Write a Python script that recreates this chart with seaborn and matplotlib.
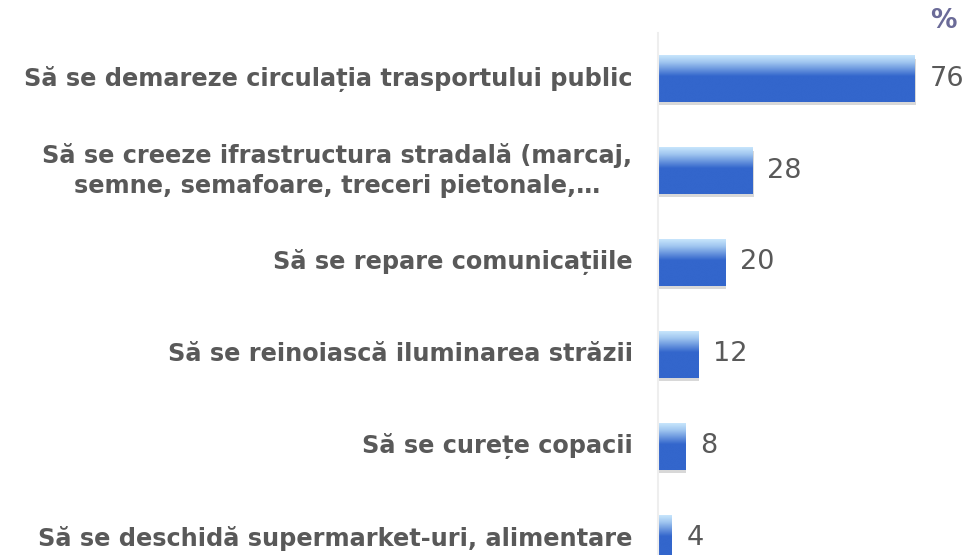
import numpy as np
import pandas as pd
import matplotlib
matplotlib.use("Agg")
import matplotlib.pyplot as plt
import matplotlib.patheffects as pe
from matplotlib.colors import LinearSegmentedColormap
import seaborn as sns

categories = [
    "Să se demareze circulația trasportului public",
    "Să se creeze ifrastructura stradală (marcaj,\nsemne, semafoare, treceri pietonale,…",
    "Să se repare comunicațiile",
    "Să se reinoiască iluminarea străzii",
    "Să se curețe copacii",
    "Să se deschidă supermarket-uri, alimentare",
]
values = [76, 28, 20, 12, 8, 4]
unit_label = "%"

df = pd.DataFrame({"cat": categories, "val": values})

sns.set_theme(style="white")
plt.rcParams["font.family"] = ["DejaVu Sans"]

W, H = 966, 555
fig = plt.figure(figsize=(W / 100, H / 100), dpi=100)
left_px, top_px = 657.5, 33
ax = fig.add_axes([left_px / W, 0, 1 - left_px / W, 1 - top_px / H])

sns.barplot(data=df, x="val", y="cat", orient="h", color="#3366cc",
            width=0.51, ax=ax, saturation=1)

XMAX = (W - left_px) / 3.38
ax.set_xlim(0, XMAX)
ax.set_ylim(5.18, -0.495)

cmap = LinearSegmentedColormap.from_list(
    "g", [(0, "#c8e6fc"), (0.15, "#a0c6f0"), (0.45, "#3366cc"), (1, "#3366cc")])
grad = np.linspace(0, 1, 256).reshape(-1, 1)
for p in ax.patches:
    p.set_path_effects([pe.SimplePatchShadow(offset=(1.0, -2.5), shadow_rgbFace="#808080", alpha=0.3), pe.Normal()])
    p.set_edgecolor("none")
    x0, y0 = p.get_x(), p.get_y()
    w, h = p.get_width(), p.get_height()
    im = ax.imshow(grad, cmap=cmap, aspect="auto", extent=(x0, x0 + w, y0 + h, y0),
                   origin="upper", zorder=p.get_zorder() + 0.1, interpolation="bilinear")
    im.set_clip_path(p)

ax.set_xlim(0, XMAX)
ax.set_ylim(5.18, -0.495)

for i, v in enumerate(values):
    ax.annotate(str(v), xy=(v, i), xytext=(11, 0), textcoords="offset points",
                ha="left", va="center", fontsize=19.5, color="#595959")

ax.set_xlabel("")
ax.set_ylabel("")
ax.set_xticks([])
ax.tick_params(axis="y", length=0, pad=18)
for lab in ax.get_yticklabels():
    lab.set_fontsize(17.3)
    lab.set_fontweight("bold")
    lab.set_color("#595959")
    lab.set_multialignment("center")
    lab.set_verticalalignment("center")
    lab.set_linespacing(1.3)

for s in ["top", "right", "bottom"]:
    ax.spines[s].set_visible(False)
ax.spines["left"].set_color("#eeeeee")
ax.spines["left"].set_linewidth(1.5)

fig.text(943 / W, 1 - 21 / H, unit_label, ha="center", va="center",
         fontsize=19, fontweight="bold", color="#6b6b98")

fig.savefig("out.png", dpi=100)
